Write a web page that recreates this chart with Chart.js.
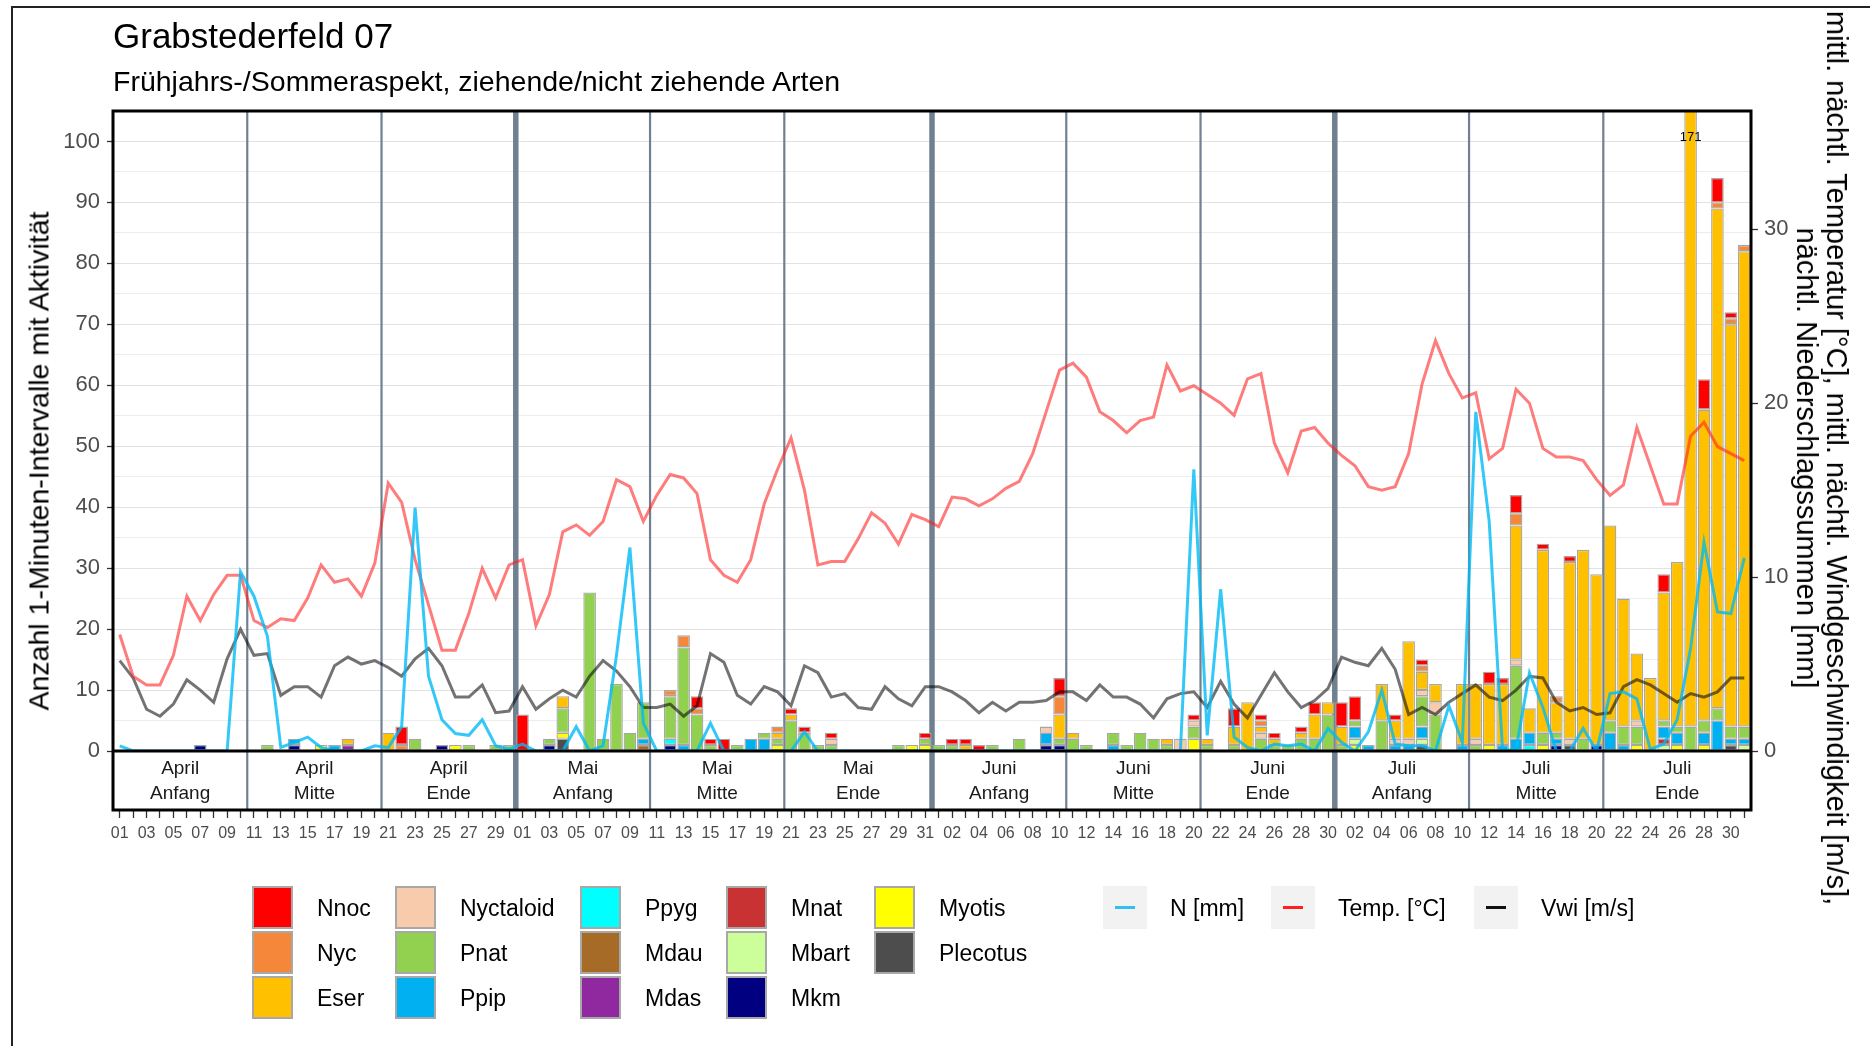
<!DOCTYPE html>
<html>
<head>
<meta charset="utf-8">
<script src="https://cdn.jsdelivr.net/npm/chart.js@4.4.1/dist/chart.umd.min.js"></script>
<style>
  body { margin: 0; background: #fff; font-family: "Liberation Sans", Arial, sans-serif; }
  #wrap { position: relative; width: 1870px; height: 1046px; overflow: hidden; background: #fff; }
  #frame { position: absolute; left: 11px; top: 6px; width: 1900px; height: 1100px; border-left: 2px solid #222; border-top: 2px solid #222; }
  canvas { position: absolute; left: 0; top: 0; }
  .txt { position: absolute; white-space: nowrap; color: #000; }
  #title { left: 113px; top: 16px; font-size: 35px; }
  #subtitle { left: 113px; top: 65px; font-size: 28.5px; }
  #ytitle { left: 39px; top: 461px; font-size: 28.5px; transform: translate(-50%, -50%) rotate(-90deg); }
  #y2title { left: 1822px; top: 458px; font-size: 29px; line-height: 30px; text-align: center; transform: translate(-50%, -50%) rotate(90deg); }
  .key { position: absolute; box-sizing: border-box; width: 41px; height: 43px; border: 2px solid #a8a8a8; }
  .lkey { position: absolute; width: 44px; height: 43px; background: #f2f2f2; }
  .lkey div { position: absolute; left: 12px; top: 20px; width: 20px; height: 3px; }
  .lab { position: absolute; font-size: 23px; line-height: 43px; white-space: nowrap; }
</style>
</head>
<body>
<div id="wrap">
  <div id="frame"></div>
  <canvas id="c" width="1870" height="1046"></canvas>
  <div class="txt" id="title">Grabstederfeld 07</div>
  <div class="txt" id="subtitle">Frühjahrs-/Sommeraspekt, ziehende/nicht ziehende Arten</div>
  <div class="txt" id="ytitle">Anzahl 1-Minuten-Intervalle mit Aktivität</div>
  <div class="txt" id="y2title">mittl. nächtl. Temperatur [°C], mittl. nächtl. Windgeschwindigkeit [m/s],<br>nächtl. Niederschlagssummen [mm]</div>
  <div id="legend"></div>
</div>
<script>
'use strict';

// days: 01.04. - 31.07.
const monthLengths = [30, 31, 30, 31];
const stripMonths = ['April', 'Mai', 'Juni', 'Juli'];
const stripParts = ['Anfang', 'Mitte', 'Ende'];

const speciesNames = ['Nnoc', 'Nyc', 'Eser', 'Nyctaloid', 'Pnat', 'Ppip', 'Ppyg', 'Mdau', 'Mdas', 'Mnat', 'Mbart', 'Mkm', 'Myotis', 'Plecotus'];
const speciesColors = ['#ff0000', '#f4873a', '#ffc000', '#f8cbad', '#92d050', '#00b0f0', '#00ffff', '#a66b26', '#9028a0', '#c83232', '#ccff99', '#000080', '#ffff00', '#4d4d4d'];

// counts per night (Apr | May | Jun | Jul)
const nnoc = [
  0,0,0,0,0,0,0,0,0,0, 0,0,0,0,0,0,0,0,0,0, 0,3,0,0,0,0,0,0,0,0,
  6,0,0,0,0,0,0,0,0,0, 0,0,0,2,1,2,0,0,0,0, 1,1,0,1,0,0,0,0,0,0, 1,
  0,1,1,1,0,0,0,0,0,3, 0,0,0,0,0,0,0,0,0,1, 0,0,3,0,1,1,0,1,2,0,
  4,4,0,0,1,0,1,0,0,0, 0,2,1,3,0,1,0,1,0,0, 0,0,0,0,3,0,0,5,4,1, 0
];
const nyc = [
  0,0,0,0,0,0,0,0,0,0, 0,0,0,0,0,0,0,0,0,0, 0,1,0,0,0,0,0,0,0,0,
  0,0,0,0,0,0,0,0,0,0, 0,1,2,1,0,0,0,0,0,1, 0,0,0,0,0,0,0,0,0,0, 0,
  0,0,0,0,0,0,0,0,0,3, 0,0,0,0,0,0,0,0,0,0, 0,0,0,0,1,0,0,0,0,0,
  0,0,0,0,0,0,1,0,0,0, 0,0,0,2,0,0,1,0,0,0, 0,0,0,0,0,0,0,0,1,1, 1
];
const eser = [
  0,0,0,0,0,0,0,0,0,0, 0,0,0,0,0,0,0,1,0,0, 3,0,0,0,0,0,0,0,0,0,
  0,0,0,2,0,0,0,0,0,0, 0,0,0,0,0,0,0,0,0,1, 1,0,0,0,0,0,0,0,0,0, 0,
  0,0,1,0,0,0,0,0,0,4, 1,0,0,0,0,0,0,1,0,0, 1,0,3,8,1,1,0,1,4,2,
  3,0,0,6,3,16,3,3,0,10, 9,10,10,22,4,30,5,29,31,28, 32,21,11,12,21,27,167,51,82,66, 78
];
const nyctaloid = [
  0,0,0,0,0,0,0,0,0,0, 0,0,0,0,0,0,0,0,0,0, 0,0,0,0,0,0,0,0,0,0,
  0,0,0,0,0,0,0,0,0,0, 0,0,0,0,0,0,0,0,0,0, 0,0,0,1,0,0,0,0,0,0, 0,
  0,0,0,0,0,0,0,0,1,0, 0,0,0,0,0,0,0,0,2,1, 0,0,0,0,1,0,0,0,0,0,
  0,0,0,0,1,1,1,2,0,0, 1,0,0,1,0,0,0,1,0,0, 0,0,1,0,0,0,0,0,0,0, 0
];
const pnat = [
  0,0,0,0,0,0,0,0,0,0, 0,1,0,0,0,0,0,0,0,0, 0,0,2,0,0,0,1,0,1,1,
  0,0,1,4,0,26,2,11,3,6, 0,7,16,6,1,0,1,0,1,1, 5,3,1,1,0,0,0,0,1,0, 1,
  1,1,0,0,1,0,2,0,0,1, 2,1,0,2,1,3,2,1,0,2, 1,0,1,0,2,1,1,2,2,6,
  1,1,0,5,0,0,5,6,0,0, 1,0,0,12,0,2,1,0,2,0, 2,3,3,0,1,1,4,2,2,2, 2
];
const ppip = [
  0,0,0,0,0,0,0,0,0,0, 0,0,0,1,0,0,1,0,0,0, 0,0,0,0,0,0,0,0,0,0,
  0,0,0,0,0,0,0,0,0,1, 0,0,1,0,0,0,0,2,2,0, 0,0,0,0,0,0,0,0,0,0, 0,
  0,0,0,0,0,0,0,0,2,0, 0,0,0,1,0,0,0,0,0,0, 0,0,0,0,0,0,0,0,0,0,
  0,2,1,0,1,1,2,0,0,1, 0,0,1,2,2,0,1,0,0,0, 3,1,0,0,2,2,0,2,5,1, 1
];
const ppyg = [
  0,0,0,0,0,0,0,0,0,0, 0,0,0,0,0,0,0,0,0,0, 0,0,0,0,0,0,0,0,0,0,
  0,0,0,0,0,0,0,0,0,0, 0,1,0,0,0,0,0,0,0,0, 0,0,0,0,0,0,0,0,0,0, 0,
  0,0,0,0,0,0,0,0,0,0, 0,0,0,0,0,0,0,0,0,0, 0,0,0,0,0,0,0,0,0,0,
  0,0,0,0,0,0,0,0,0,0, 0,0,0,0,1,0,0,0,0,0, 0,0,0,0,0,0,0,0,0,0, 0
];
const mdau = [
  0,0,0,0,0,0,0,0,0,0, 0,0,0,0,0,0,0,0,0,0, 0,0,0,0,0,0,0,0,0,0,
  0,0,0,0,0,0,0,0,0,1, 0,0,0,0,0,0,0,0,0,0, 0,0,0,0,0,0,0,0,0,0, 0,
  0,0,0,0,0,0,0,0,0,0, 0,0,0,0,0,0,0,0,0,0, 0,0,0,0,0,0,0,0,0,0,
  0,0,0,0,0,0,0,0,0,0, 0,0,0,0,0,0,0,0,0,0, 0,0,0,0,0,0,0,0,0,0, 0
];
const mdas = [
  0,0,0,0,0,0,0,0,0,0, 0,0,0,0,0,0,0,1,0,0, 0,0,0,0,0,0,0,0,0,0,
  0,0,0,0,0,0,0,0,0,0, 0,0,0,0,0,0,0,0,0,0, 0,0,0,0,0,0,0,0,0,0, 0,
  0,0,0,0,0,0,0,0,0,0, 0,0,0,0,0,0,0,0,0,0, 0,0,0,0,0,0,0,0,0,0,
  0,0,0,0,0,0,0,0,0,0, 0,0,0,0,0,0,0,0,0,0, 0,0,0,0,0,0,0,0,0,0, 0
];
const mnat = [
  0,0,0,0,0,0,0,0,0,0, 0,0,0,0,0,0,0,0,0,0, 0,0,0,0,0,0,0,0,0,0,
  0,0,0,0,0,0,0,0,0,0, 0,0,0,0,0,0,0,0,0,0, 0,0,0,0,0,0,0,0,0,0, 0,
  0,0,0,0,0,0,0,0,0,0, 0,0,0,0,0,0,0,0,0,0, 0,0,0,0,0,0,0,0,0,0,
  0,0,0,0,0,0,0,0,0,0, 0,0,0,0,0,0,0,0,0,0, 0,0,0,0,1,0,0,0,0,0, 0
];
const mbart = [
  0,0,0,0,0,0,0,0,0,0, 0,0,0,0,0,0,0,0,0,0, 0,0,0,0,0,0,0,0,0,0,
  0,0,0,0,0,0,0,0,0,0, 0,0,0,0,0,0,0,0,0,0, 0,0,0,0,0,0,0,0,0,0, 0,
  0,0,0,0,0,0,0,0,0,0, 0,0,0,0,0,0,0,0,0,0, 0,0,0,0,0,0,0,0,0,0,
  0,1,0,0,0,0,1,0,0,0, 0,0,0,0,0,0,0,0,0,0, 0,0,0,0,1,0,0,0,0,0, 1
];
const mkm = [
  0,0,0,0,0,0,1,0,0,0, 0,0,0,1,0,0,0,0,0,0, 0,0,0,0,1,0,0,0,0,0,
  0,0,1,0,0,0,0,0,0,0, 0,1,0,0,0,0,0,0,0,0, 0,0,0,0,0,0,0,0,0,0, 0,
  0,0,0,0,0,0,0,0,1,1, 0,0,0,0,0,0,0,0,0,0, 0,0,0,0,0,0,0,0,0,0,
  0,0,0,0,0,0,0,0,0,0, 0,0,0,0,0,0,1,0,0,1, 0,0,0,0,0,0,0,0,0,0, 0
];
const myotis = [
  0,0,0,0,0,0,0,0,0,0, 0,0,0,0,0,1,0,0,0,0, 0,0,0,0,0,1,0,0,0,0,
  0,0,0,1,0,0,0,0,0,0, 0,0,0,0,0,0,0,0,0,1, 0,0,0,0,0,0,0,0,0,1, 1,
  0,0,0,0,0,0,0,0,0,0, 0,0,0,0,0,0,0,0,0,2, 0,0,0,0,0,0,0,0,0,0,
  0,1,0,0,0,0,0,0,0,0, 0,1,0,0,0,1,0,0,0,0, 0,0,1,0,0,1,0,1,0,0, 0
];
const plecotus = [
  0,0,0,0,0,0,0,0,0,0, 0,0,0,0,0,0,0,0,0,0, 0,0,0,0,0,0,0,0,0,0,
  0,0,0,2,0,0,0,0,0,0, 0,0,0,0,0,0,0,0,0,0, 0,0,0,0,0,0,0,0,0,0, 0,
  0,0,0,0,0,0,0,0,0,0, 0,0,0,0,0,0,0,0,0,0, 0,0,0,0,0,0,0,0,0,0,
  0,0,0,0,0,0,1,0,0,0, 0,0,0,0,0,0,0,1,0,0, 0,0,0,0,0,0,0,0,0,1, 0
];
const speciesData = [nnoc, nyc, eser, nyctaloid, pnat, ppip, ppyg, mdau, mdas, mnat, mbart, mkm, myotis, plecotus];

// weather per night
const precip = [
  0.3,0,0,0,0,0,0,0,0,10.3, 8.9,6.6,0.2,0.5,0.8,0.2,0,0,0,0.3, 0.2,1.4,14.0,4.3,1.8,1.0,0.9,1.8,0.3,0.1,
  0.4,0,0,0,1.4,0,0.3,5.5,11.7,1.6, 0,0,0,0,1.6,0,0,0,0,0, 0,1.1,0,0,0,0,0,0,0,0, 0,
  0,0,0,0,0,0,0,0,0,0, 0,0,0,0,0,0,0,0,0,16.2, 0.9,9.3,0.8,0.2,0,0.4,0.3,0.4,0,1.3,
  0.5,0,1.1,3.5,0.4,0.3,0.3,0,2.6,0.5, 19.5,13.2,0,0.1,4.5,2.5,0,0,1.3,0, 3.3,3.4,3.0,0.1,0.4,1.8,5.9,12.0,8.0,7.9, 11.1
];
const temp = [
  6.7,4.3,3.8,3.8,5.5,8.9,7.5,9.0,10.1,10.1, 7.5,7.1,7.6,7.5,8.8,10.7,9.7,9.9,8.9,10.8, 15.4,14.3,11.0,8.4,5.8,5.8,7.9,10.5,8.8,10.7,
  11.0,7.2,9.0,12.6,13.0,12.4,13.2,15.6,15.2,13.2, 14.7,15.9,15.7,14.8,11.0,10.1,9.7,11.0,14.2,16.2, 18.0,15.0,10.7,10.9,10.9,12.2,13.7,13.1,11.9,13.6, 13.3,
  12.9,14.6,14.5,14.1,14.5,15.1,15.5,17.1,19.5,21.9, 22.3,21.5,19.5,19.0,18.3,19.0,19.2,22.2,20.7,21.0, 20.5,20.0,19.3,21.4,21.7,17.7,16.0,18.4,18.6,17.7,
  17.0,16.4,15.2,15.0,15.2,17.1,21.1,23.6,21.7,20.3, 20.6,16.8,17.4,20.8,20.0,17.4,16.9,16.9,16.7,15.6, 14.7,15.3,18.6,16.4,14.2,14.2,18.1,18.9,17.5,17.1, 16.7
];
const wind = [
  5.2,4.2,2.4,2.0,2.7,4.1,3.5,2.8,5.3,7.0, 5.5,5.6,3.2,3.7,3.7,3.1,4.9,5.4,5.0,5.2, 4.8,4.3,5.3,5.9,4.9,3.1,3.1,3.8,2.2,2.3,
  3.7,2.4,3.0,3.5,3.1,4.3,5.2,4.6,3.7,2.5, 2.5,2.7,2.0,2.6,5.6,5.1,3.2,2.7,3.7,3.4, 2.6,4.9,4.5,3.1,3.3,2.5,2.4,3.7,3.0,2.6, 3.7,
  3.7,3.4,2.9,2.2,2.8,2.3,2.8,2.8,2.9,3.4, 3.4,2.9,3.8,3.1,3.1,2.7,1.9,3.0,3.3,3.4, 2.5,4.0,2.7,1.9,3.2,4.5,3.4,2.5,2.9,3.6,
  5.4,5.1,4.9,5.9,4.7,2.1,2.5,2.1,2.8,3.3, 3.8,3.1,2.9,3.5,4.3,4.2,2.8,2.3,2.5,2.1, 2.2,3.7,4.1,3.8,3.3,2.8,3.3,3.1,3.4,4.2, 4.2
];
const lineNames = ['N [mm]', 'Temp. [°C]', 'Vwi [m/s]'];
const lineColors = ['rgba(0,186,245,0.8)', 'rgba(255,30,30,0.58)', 'rgba(0,0,0,0.55)'];
const lineKeyColors = ['#2fc0f2', '#ff2020', '#111'];

const yMax = 105;
const y2Max = 36.8;

// x labels "01".."31"
const dayLabels = [];
monthLengths.forEach(n => {
  for (let d = 1; d <= n; d++) dayLabels.push(String(d).padStart(2, '0'));
});

// start index of each third of a month
const blockEdges = [0, 10, 20, 30, 40, 50, 61, 71, 81, 91, 101, 111, 122];
const monthEdges = [30, 61, 91];

const datasets = [];
lineNames.forEach((name, k) => {
  datasets.push({
    type: 'line',
    label: name,
    data: [precip, temp, wind][k],
    borderColor: lineColors[k],
    borderWidth: 3,
    pointRadius: 0,
    tension: 0,
    fill: false,
    yAxisID: 'y2',
    order: 0
  });
});
for (let k = speciesNames.length - 1; k >= 0; k--) {
  datasets.push({
    type: 'bar',
    label: speciesNames[k],
    data: speciesData[k].map(v => v || null),
    backgroundColor: speciesColors[k],
    borderColor: '#a6a6a6',
    borderWidth: 1.3,
    borderSkipped: false,
    categoryPercentage: 1,
    barPercentage: 0.94,
    yAxisID: 'y',
    stack: 'bats',
    order: 1
  });
}

const edgeX = function(chart, idx){
  const a = chart.chartArea;
  if (idx <= 0) return a.left;
  if (idx >= dayLabels.length) return a.right;
  const x = chart.scales.x;
  return (x.getPixelForValue(idx - 1) + x.getPixelForValue(idx)) / 2;
};

const stripH = 59;

const panelPlugin = {
  id: 'panel',
  beforeDatasetsDraw(chart){
    const {ctx, chartArea: a} = chart;
    ctx.save();
    ctx.strokeStyle = '#708090';
    for (let b of blockEdges.slice(1, -1)){
      const x = edgeX(chart, b);
      ctx.lineWidth = monthEdges.includes(b) ? 5.5 : 2.2;
      ctx.beginPath();
      ctx.moveTo(x, a.top);
      ctx.lineTo(x, a.bottom);
      ctx.stroke();
    }
    ctx.restore();
  },
  afterDraw(chart){
    const {ctx, chartArea: a} = chart;
    ctx.save();
    // strip below the panel
    ctx.fillStyle = '#fff';
    ctx.fillRect(a.left, a.bottom, a.right - a.left, stripH);
    ctx.strokeStyle = '#708090';
    for (let b of blockEdges.slice(1, -1)){
      const x = edgeX(chart, b);
      ctx.lineWidth = monthEdges.includes(b) ? 5.5 : 2.2;
      ctx.beginPath();
      ctx.moveTo(x, a.bottom);
      ctx.lineTo(x, a.bottom + stripH);
      ctx.stroke();
    }
    ctx.fillStyle = '#1a1a1a';
    ctx.font = '19px "Liberation Sans", Arial, sans-serif';
    ctx.textAlign = 'center';
    ctx.textBaseline = 'middle';
    for (let k = 0; k < blockEdges.length - 1; k++){
      const cx = (edgeX(chart, blockEdges[k]) + edgeX(chart, blockEdges[k + 1])) / 2;
      ctx.fillText(stripMonths[Math.floor(k / 3)], cx, a.bottom + 17.5);
      ctx.fillText(stripParts[k % 3], cx, a.bottom + 43);
    }
    // borders
    ctx.strokeStyle = '#000';
    ctx.lineWidth = 3;
    ctx.strokeRect(a.left, a.top, a.right - a.left, a.bottom + stripH - a.top);
    ctx.beginPath();
    ctx.moveTo(a.left, a.bottom);
    ctx.lineTo(a.right, a.bottom);
    ctx.stroke();
    // values cut off at the top
    ctx.fillStyle = '#000';
    ctx.font = '13px "Liberation Sans", Arial, sans-serif';
    for (let i = 0; i < dayLabels.length; i++){
      const total = speciesData.reduce((s, arr) => s + arr[i], 0);
      if (total > yMax){
        ctx.fillText(String(total), chart.scales.x.getPixelForValue(i), a.top + 26);
      }
    }
    ctx.restore();
  }
};

Chart.defaults.font.family = '"Liberation Sans", Arial, sans-serif';

const ctx = document.getElementById('c').getContext('2d');
const chart = new Chart(ctx, {
  type: 'bar',
  data: { labels: dayLabels, datasets: datasets },
  options: {
    responsive: false,
    animation: false,
    layout: { padding: { top: 111, left: 0, right: 0, bottom: 0 } },
    plugins: { legend: { display: false }, tooltip: { enabled: false } },
    scales: {
      x: {
        stacked: true,
        offset: true,
        border: { display: false },
        grid: { drawOnChartArea: false, offset: false, tickLength: 67, tickColor: '#333', tickWidth: 1.3 },
        ticks: {
          autoSkip: false, maxRotation: 0, minRotation: 0, padding: 6,
          font: { size: 16 }, color: '#4d4d4d',
          callback: (v, i) => i % 2 === 0 ? dayLabels[i] : ''
        },
        afterFit: s => { s.height = 1046 - 751; }
      },
      y: {
        stacked: true,
        position: 'left',
        min: 0, max: yMax,
        border: { display: false },
        grid: {
          color: c => c.tick && c.tick.value % 10 === 0 ? '#e2e2e2' : '#ededed',
          tickLength: 6,
          tickColor: c => c.tick && c.tick.value % 10 === 0 ? '#333' : 'rgba(0,0,0,0)',
          tickWidth: 1.3
        },
        ticks: {
          stepSize: 5, includeBounds: false, padding: 7,
          font: { size: 22 }, color: '#4d4d4d',
          callback: v => v % 10 === 0 ? v : ''
        },
        afterFit: s => { s.width = 113; }
      },
      y2: {
        position: 'right',
        min: 0, max: y2Max,
        border: { display: false },
        grid: { drawOnChartArea: false, tickLength: 7, tickColor: '#333', tickWidth: 1.3 },
        ticks: { stepSize: 10, includeBounds: false, padding: 6, font: { size: 22 }, color: '#4d4d4d' },
        afterFit: s => { s.width = 1870 - 1751; }
      }
    }
  },
  plugins: [panelPlugin]
});

// legend
const legend = document.getElementById('legend');
const legendCols = [252, 395, 580, 726, 874];
const legendRows = [886, 931, 976];
speciesNames.forEach((name, k) => {
  const x = legendCols[Math.floor(k / 3)];
  const y = legendRows[k % 3];
  const key = document.createElement('div');
  key.className = 'key';
  key.style.left = x + 'px';
  key.style.top = y + 'px';
  key.style.background = speciesColors[k];
  legend.appendChild(key);
  const lab = document.createElement('div');
  lab.className = 'lab';
  lab.style.left = (x + 65) + 'px';
  lab.style.top = (y + 1) + 'px';
  lab.textContent = name;
  legend.appendChild(lab);
});
const lineKeyX = [1103, 1271, 1474];
lineNames.forEach((name, k) => {
  const key = document.createElement('div');
  key.className = 'lkey';
  key.style.left = lineKeyX[k] + 'px';
  key.style.top = legendRows[0] + 'px';
  const stroke = document.createElement('div');
  stroke.style.background = lineKeyColors[k];
  key.appendChild(stroke);
  legend.appendChild(key);
  const lab = document.createElement('div');
  lab.className = 'lab';
  lab.style.left = (lineKeyX[k] + 67) + 'px';
  lab.style.top = (legendRows[0] + 1) + 'px';
  lab.textContent = name;
  legend.appendChild(lab);
});
</script>
</body>
</html>
